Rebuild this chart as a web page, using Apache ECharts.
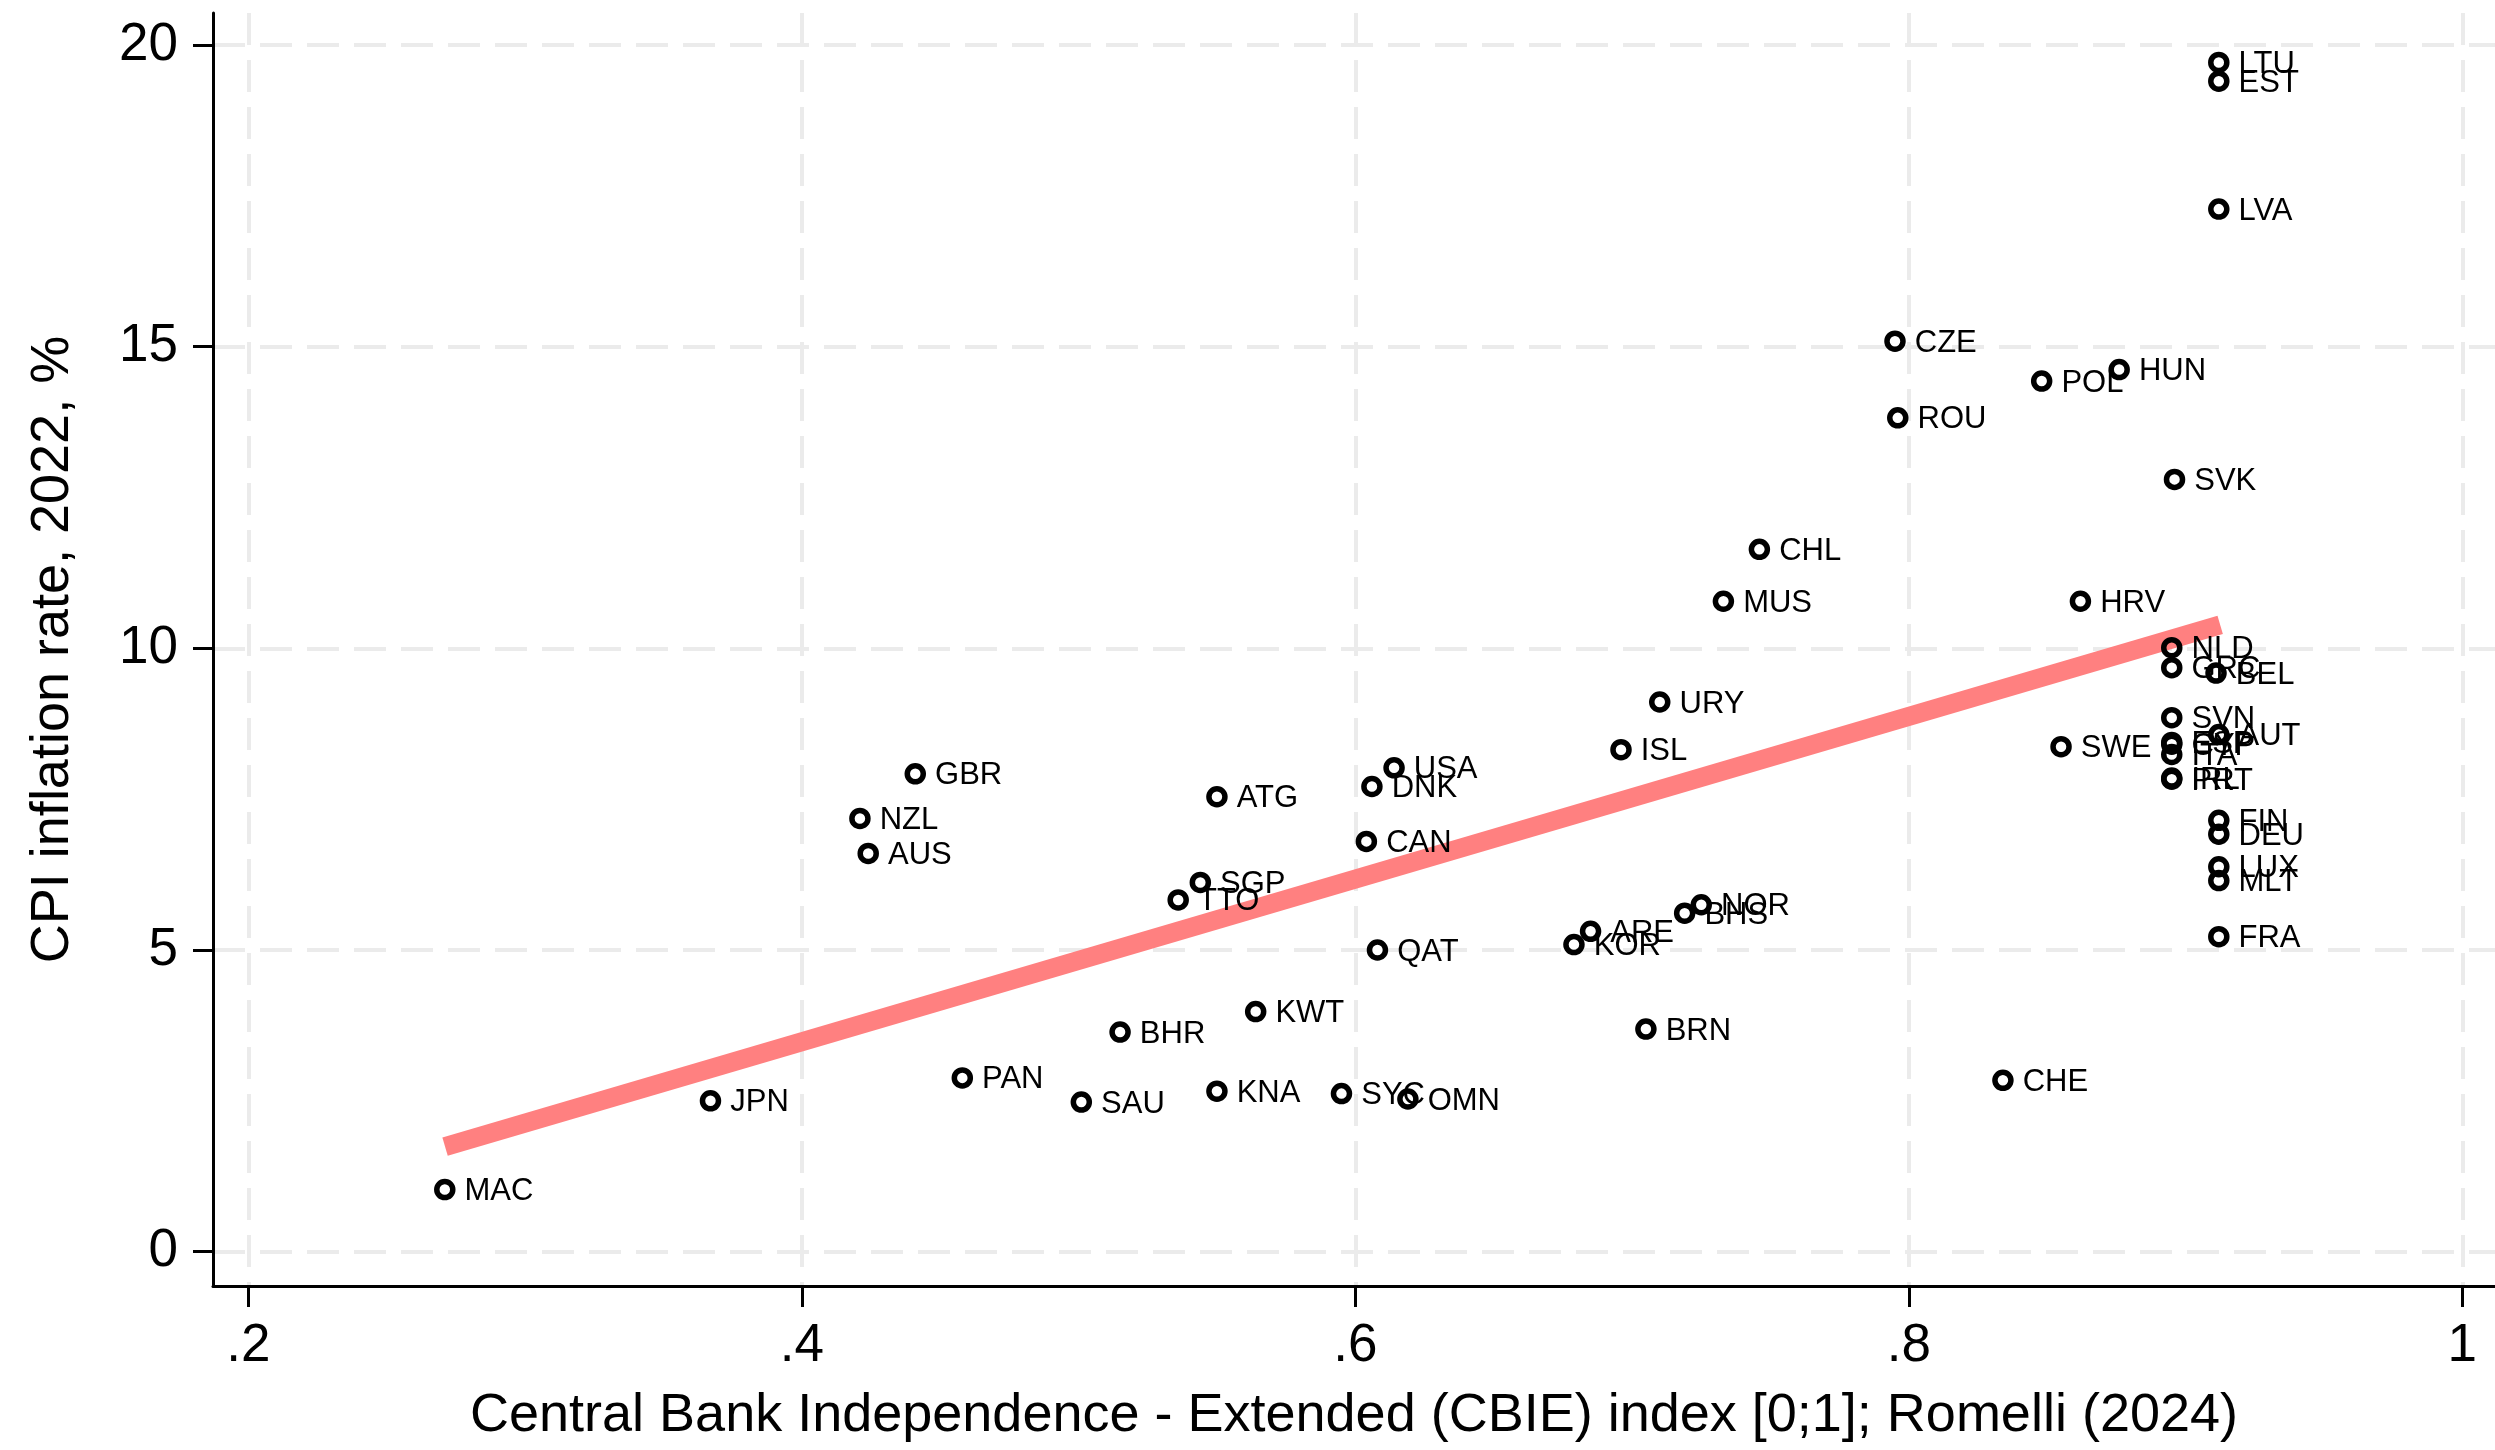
<!DOCTYPE html>
<html lang="en">
<head>
    <meta charset="UTF-8">
    <title>CBIE vs CPI inflation</title>
    <script type="text/javascript" src="https://cdn.jsdelivr.net/npm/echarts@6.0.0/dist/echarts.min.js"></script>
    <style>
        html, body { margin: 0; padding: 0; background: #fff; }
    </style>
</head>
<body>
<div id="main" style="width: 2495px;height:1450px"></div>

<script type="text/javascript">
    // country codes, CBIE index and 2022 CPI inflation
    var countries = ['MAC', 'JPN', 'NZL', 'AUS', 'GBR', 'PAN', 'SAU', 'BHR', 'TTO', 'SGP',
        'ATG', 'KNA', 'KWT', 'SYC', 'CAN', 'DNK', 'QAT', 'USA', 'OMN', 'KOR',
        'ARE', 'ISL', 'BRN', 'URY', 'BHS', 'NOR', 'MUS', 'CHL', 'CZE', 'ROU',
        'CHE', 'POL', 'SWE', 'HRV', 'HUN', 'SVK', 'NLD', 'GRC', 'SVN', 'ESP',
        'CYP', 'ITA', 'IRL', 'PRT', 'LTU', 'EST', 'LVA', 'BEL', 'AUT', 'FIN',
        'DEU', 'LUX', 'MLT', 'FRA'];
    var cbie = [0.271, 0.367, 0.421, 0.424, 0.441, 0.458, 0.501, 0.515, 0.536, 0.544,
        0.550, 0.550, 0.564, 0.595, 0.604, 0.606, 0.608, 0.614, 0.619, 0.679,
        0.685, 0.696, 0.705, 0.710, 0.719, 0.725, 0.733, 0.746, 0.795, 0.796,
        0.834, 0.848, 0.855, 0.862, 0.876, 0.896, 0.895, 0.895, 0.895, 0.895,
        0.895, 0.895, 0.895, 0.895, 0.912, 0.912, 0.912, 0.911, 0.912, 0.912,
        0.912, 0.912, 0.912, 0.912];
    var cpi = [1.03, 2.50, 7.18, 6.60, 7.92, 2.88, 2.48, 3.64, 5.83, 6.12,
        7.54, 2.66, 3.98, 2.62, 6.80, 7.71, 5.00, 8.02, 2.53, 5.09,
        5.31, 8.32, 3.69, 9.11, 5.61, 5.75, 10.78, 11.64, 15.09, 13.82,
        2.84, 14.43, 8.37, 10.78, 14.62, 12.80, 10.01, 9.68, 8.85, 8.44,
        8.41, 8.24, 7.85, 7.83, 19.71, 19.40, 17.28, 9.59, 8.57, 7.15,
        6.92, 6.38, 6.15, 5.22];

    // fitted line end points
    var fitX = [0.2711, 0.9125];
    var fitY = [1.74, 10.39];

    // axis ticks
    var xTicks = [0.2, 0.4, 0.6, 0.8, 1];
    var xTickLabels = ['.2', '.4', '.6', '.8', '1'];
    var yTicks = [0, 5, 10, 15, 20];

    var chartDom = document.getElementById('main');
    var myChart = echarts.init(chartDom);

    var points = [];
    for (var i = 0; i < countries.length; i++) {
        points.push({name: countries[i], value: [cbie[i], cpi[i]]});
    }
    var fit = [];
    for (var j = 0; j < fitX.length; j++) {
        fit.push([fitX[j], fitY[j]]);
    }

    var font = "'Liberation Sans', Arial, sans-serif";
    var gridLine = {show: true, lineStyle: {color: '#ebebeb', width: 4, type: [32, 15]}};

    var option = {
        animation: false,
        backgroundColor: '#fff',
        grid: {left: 213, right: 0, top: 13, bottom: 164},
        xAxis: {
            type: 'value',
            min: 0.18725,
            max: 1.0118,
            name: 'Central Bank Independence - Extended (CBIE) index [0;1]; Romelli (2024)',
            nameLocation: 'middle',
            nameGap: 103,
            nameTextStyle: {fontSize: 54, color: '#000', fontFamily: font},
            axisLine: {onZero: false, lineStyle: {color: '#000', width: 3}},
            axisTick: {show: true, length: 21, customValues: xTicks, lineStyle: {color: '#000', width: 3}},
            axisLabel: {
                customValues: xTicks,
                margin: 34,
                fontSize: 53,
                color: '#000',
                fontFamily: font,
                formatter: function (v) {
                    var k = xTicks.indexOf(Math.round(v * 10) / 10);
                    return k >= 0 ? xTickLabels[k] : '';
                }
            },
            splitLine: gridLine
        },
        yAxis: {
            type: 'value',
            min: -0.569,
            max: 20.53,
            name: 'CPI inflation rate, 2022, %',
            nameLocation: 'middle',
            nameGap: 133,
            nameTextStyle: {fontSize: 54, color: '#000', fontFamily: font},
            axisLine: {show: true, onZero: false, lineStyle: {color: '#000', width: 3}},
            axisTick: {show: true, length: 20, customValues: yTicks, lineStyle: {color: '#000', width: 3}},
            axisLabel: {
                customValues: yTicks,
                margin: 35,
                fontSize: 53,
                color: '#000',
                fontFamily: font
            },
            splitLine: gridLine
        },
        series: [
            {
                type: 'line',
                data: fit,
                symbol: 'none',
                silent: true,
                lineStyle: {color: '#ff8080', width: 19, cap: 'butt', opacity: 1},
                z: 1
            },
            {
                type: 'scatter',
                data: points,
                symbol: 'circle',
                symbolSize: 16,
                itemStyle: {color: 'rgba(0,0,0,0)', borderColor: '#000', borderWidth: 5.5, opacity: 1},
                label: {
                    show: true,
                    position: 'right',
                    distance: 9,
                    offset: [0, 2],
                    formatter: '{b}',
                    fontSize: 31,
                    color: '#000',
                    opacity: 1,
                    fontFamily: font
                },
                emphasis: {disabled: true},
                z: 2
            }
        ]
    };

    option && myChart.setOption(option);
</script>
</body>
</html>
